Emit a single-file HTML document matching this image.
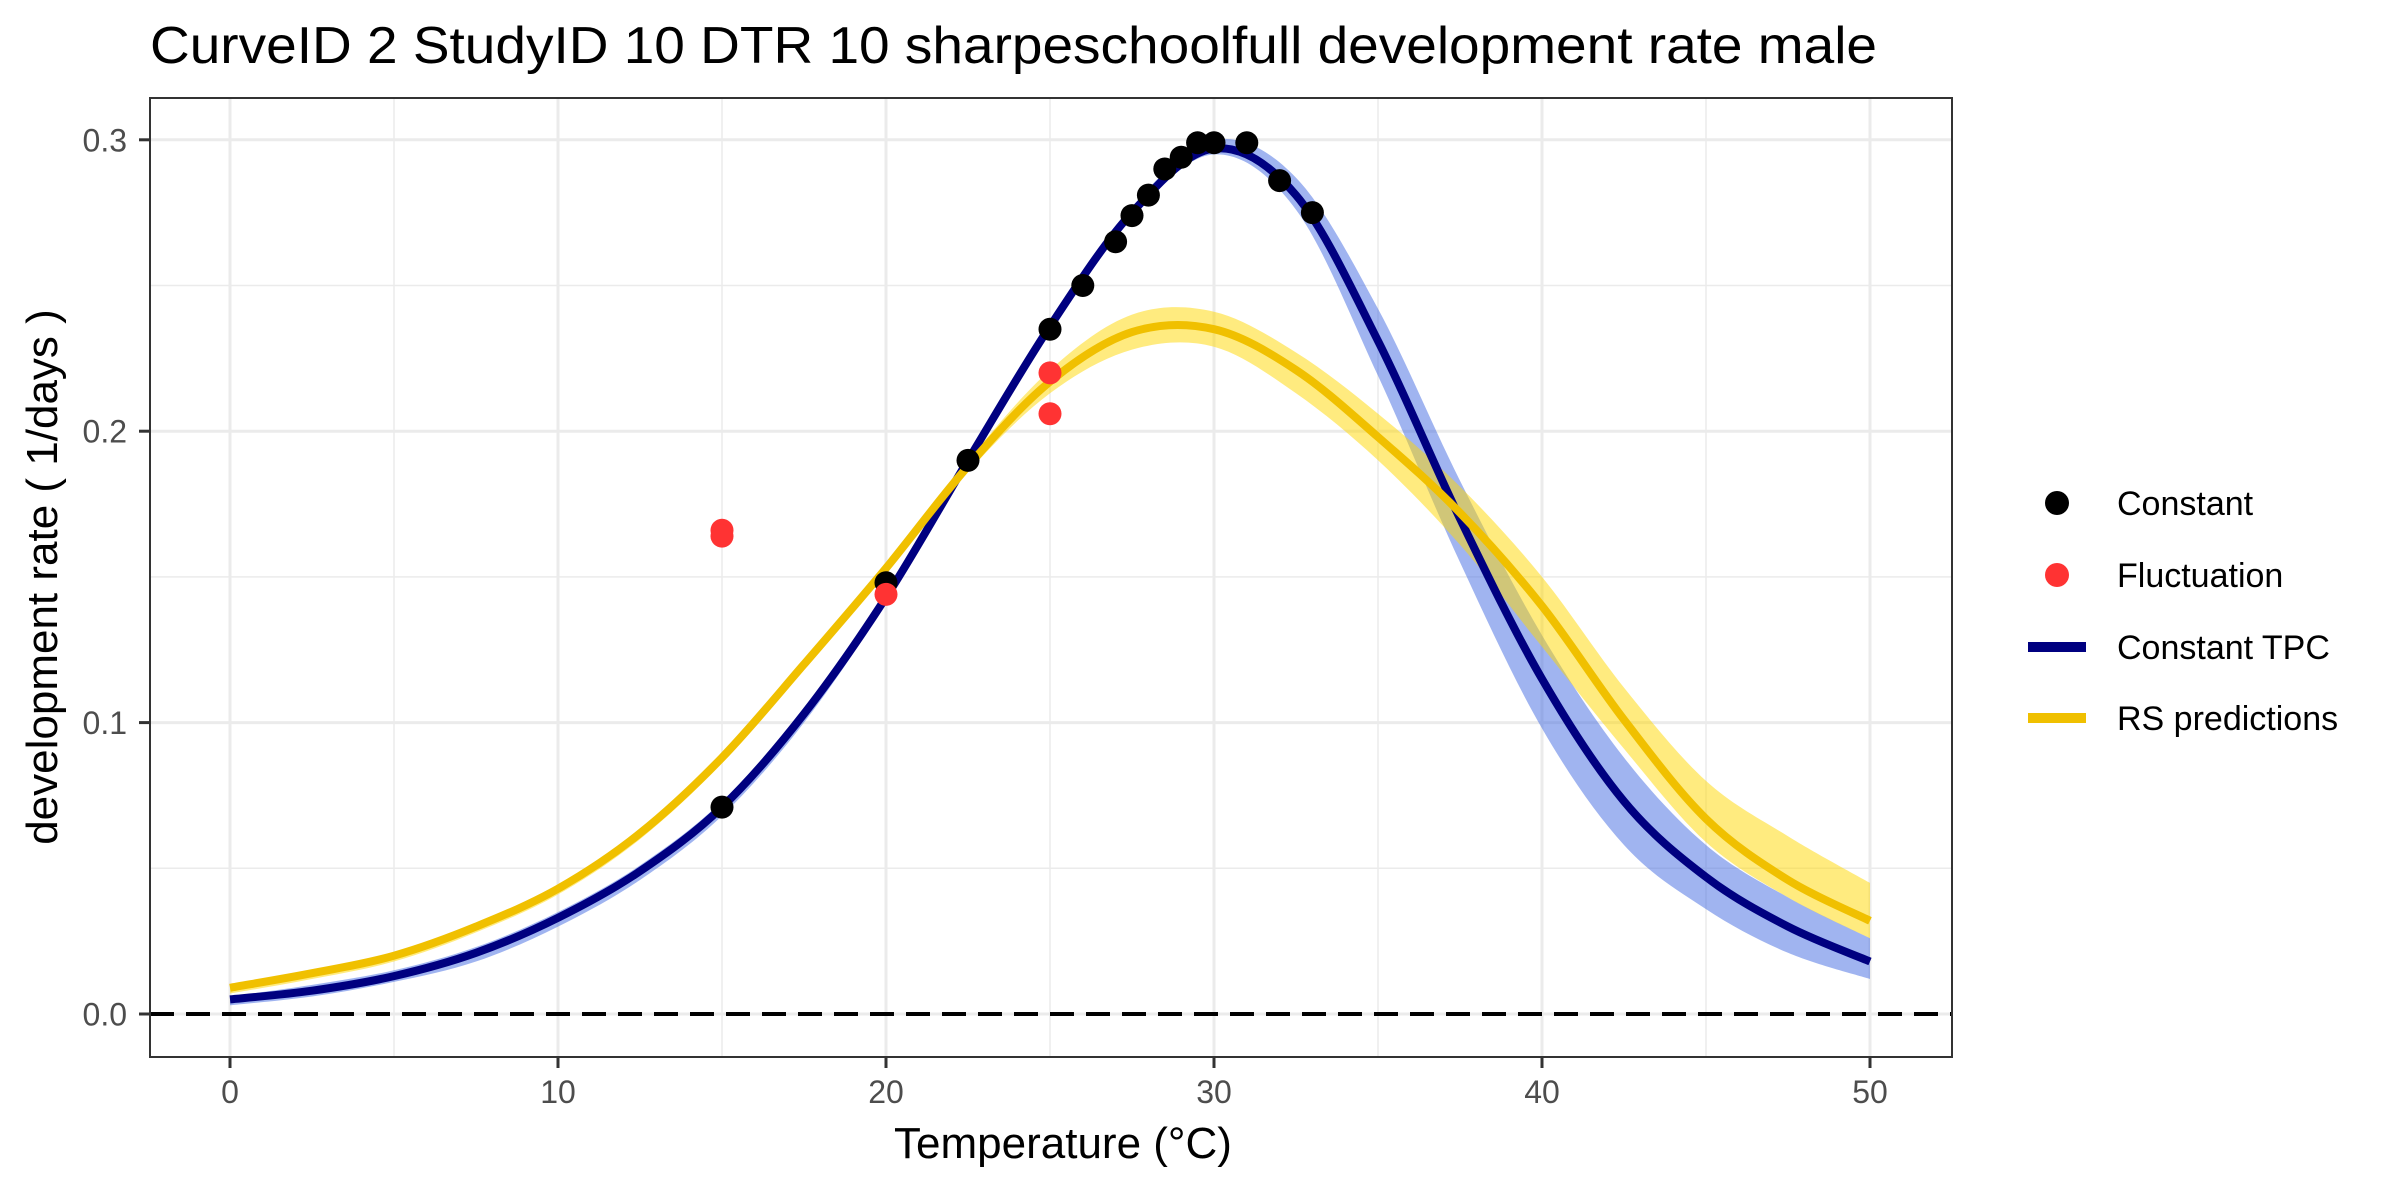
<!DOCTYPE html>
<html><head><meta charset="utf-8"><style>
html,body{margin:0;padding:0;background:#fff;}
svg{display:block;font-family:"Liberation Sans",Arial,sans-serif;}
</style></head><body>
<svg id="chart" width="2400" height="1200" viewBox="0 0 2400 1200">
<rect width="2400" height="1200" fill="#fff"/>
<text x="150" y="63" font-size="52" fill="#000" textLength="1727" lengthAdjust="spacingAndGlyphs">CurveID 2 StudyID 10 DTR 10 sharpeschoolfull development rate male</text>
<g id="grid"></g>
<g id="ribbons"></g>
<g id="lines"></g>
<g id="points"></g>
<rect x="150" y="98" width="1802" height="959" fill="none" stroke="#333" stroke-width="2"/>
<g id="axes"></g>
<text x="1063" y="1158" font-size="44" text-anchor="middle" fill="#000">Temperature (°C)</text>
<text transform="translate(57,577) rotate(-90)" font-size="44" text-anchor="middle" fill="#000">development rate ( 1/days )</text>
<g>
  <g>
    <circle cx="2057" cy="503" r="12" fill="#000"/>
    <text x="2117" y="515" font-size="34" fill="#000">Constant</text>
  </g>
  <g>
    <circle cx="2057" cy="575" r="12" fill="#ff3333"/>
    <text x="2117" y="587" font-size="34" fill="#000">Fluctuation</text>
  </g>
  <g>
    <rect x="2028" y="642" width="58" height="10" fill="#000080"/>
    <text x="2117" y="659" font-size="34" fill="#000">Constant TPC</text>
  </g>
  <g>
    <rect x="2028" y="713" width="58" height="10" fill="#f0c000"/>
    <text x="2117" y="730" font-size="34" fill="#000">RS predictions</text>
  </g>
</g>
</svg>
<script>
const curveT = [0,2.5,5,7.5,10,12.5,15,17.5,20,22.5,25,27.5,30,32.5,35,37.5,40,42.5,45,47.5,50];
const tpcFit = [0.005,0.008,0.013,0.021,0.033,0.049,0.071,0.103,0.143,0.19,0.236,0.275,0.297,0.281,0.231,0.170,0.115,0.073,0.047,0.030,0.018];
const tpcLow = [0.003,0.006,0.011,0.018,0.030,0.046,0.068,0.100,0.141,0.188,0.234,0.273,0.295,0.276,0.219,0.155,0.098,0.058,0.036,0.021,0.012];
const tpcHigh = [0.006,0.010,0.015,0.023,0.035,0.051,0.073,0.105,0.145,0.192,0.238,0.277,0.300,0.287,0.242,0.183,0.130,0.088,0.058,0.040,0.026];
const rsFit = [0.009,0.014,0.020,0.030,0.043,0.062,0.088,0.120,0.153,0.188,0.217,0.234,0.235,0.221,0.198,0.172,0.140,0.101,0.067,0.046,0.032];
const rsLow = [0.007,0.012,0.018,0.028,0.041,0.060,0.086,0.118,0.151,0.186,0.213,0.228,0.229,0.213,0.190,0.161,0.126,0.091,0.059,0.040,0.026];
const rsHigh = [0.010,0.015,0.021,0.031,0.044,0.063,0.089,0.121,0.155,0.190,0.221,0.240,0.241,0.227,0.206,0.181,0.150,0.112,0.080,0.061,0.045];
const constT = [15,20,22.5,25,26,27,27.5,28,28.5,29,29.5,30,31,32,33];
const constRate = [0.071,0.148,0.19,0.235,0.25,0.265,0.274,0.281,0.29,0.294,0.299,0.299,0.299,0.286,0.275];
const flucT = [15,15,20,25,25];
const flucRate = [0.166,0.164,0.144,0.22,0.206];
const xTicks = [0,10,20,30,40,50];
const yTicks = [0,0.1,0.2,0.3];
const yTickLabels = ["0.0","0.1","0.2","0.3"];

const NS = "http://www.w3.org/2000/svg";
const X = t => 230 + 32.8 * t;
const Y = v => 1014 - 2914 * v;
function mk(tag, attrs, parent){
  const e = document.createElementNS(NS, tag);
  for (const k in attrs) e.setAttribute(k, attrs[k]);
  parent.appendChild(e);
  return e;
}
function smooth(pts){
  let d = "M" + pts[0][0].toFixed(1) + "," + pts[0][1].toFixed(1);
  for (let i = 0; i < pts.length - 1; i++){
    const p0 = pts[Math.max(0,i-1)], p1 = pts[i], p2 = pts[i+1], p3 = pts[Math.min(pts.length-1,i+2)];
    const c1x = p1[0] + (p2[0]-p0[0])/6, c1y = p1[1] + (p2[1]-p0[1])/6;
    const c2x = p2[0] - (p3[0]-p1[0])/6, c2y = p2[1] - (p3[1]-p1[1])/6;
    d += " C" + c1x.toFixed(1) + "," + c1y.toFixed(1) + " " + c2x.toFixed(1) + "," + c2y.toFixed(1) + " " + p2[0].toFixed(1) + "," + p2[1].toFixed(1);
  }
  return d;
}
const grid = document.getElementById("grid");
const axes = document.getElementById("axes");
for (let t = 5; t <= 45; t += 10){
  const g = mk("line", {x1:X(t), x2:X(t), y1:98, y2:1057, stroke:"#ebebeb", "stroke-width":1.5}, grid);
  
  
}
for (const v of [0.05,0.15,0.25]){
  const g = mk("line", {x1:150, x2:1952, y1:Y(v), y2:Y(v), stroke:"#ebebeb", "stroke-width":1.5}, grid);
  
  
}
xTicks.forEach(t => {
  const g = mk("line", {x1:X(t), x2:X(t), y1:98, y2:1057, stroke:"#ebebeb", "stroke-width":3}, grid);
  
  
  const tk = mk("line", {x1:X(t), x2:X(t), y1:1057, y2:1068, stroke:"#333", "stroke-width":3}, axes);
  
  
  const lb = mk("text", {x:X(t), y:1103, "font-size":32, "text-anchor":"middle", fill:"#4d4d4d"}, axes);
  lb.textContent = String(t);
  
  
});
yTicks.forEach((v,i) => {
  const g = mk("line", {x1:150, x2:1952, y1:Y(v), y2:Y(v), stroke:"#ebebeb", "stroke-width":3}, grid);
  
  
  const tk = mk("line", {x1:139, x2:150, y1:Y(v), y2:Y(v), stroke:"#333", "stroke-width":3}, axes);
  
  
  const lb = mk("text", {x:127, y:Y(v)+11.5, "font-size":32, "text-anchor":"end", fill:"#4d4d4d"}, axes);
  lb.textContent = yTickLabels[i];
  
  
});
const zl = mk("line", {x1:150, x2:1952, y1:Y(0), y2:Y(0), stroke:"#000", "stroke-width":4, "stroke-dasharray":"24 12"}, grid);



function ribbon(lo, hi, fill, name){
  const up = curveT.map((t,i)=>[X(t),Y(hi[i])]);
  const dn = curveT.map((t,i)=>[X(t),Y(lo[i])]).reverse();
  const d = smooth(up) + " L" + smooth(dn).slice(1) + " Z";
  const p = mk("path", {d:d, fill:fill, "fill-opacity":0.5, stroke:"none"}, document.getElementById("ribbons"));
  
  
}
ribbon(tpcLow, tpcHigh, "#4169e1", "constant-tpc-ribbon");
ribbon(rsLow, rsHigh, "#ffd700", "rs-predictions-ribbon");
function line(vals, color, name){
  const p = mk("path", {d:smooth(curveT.map((t,i)=>[X(t),Y(vals[i])])), fill:"none", stroke:color, "stroke-width":8}, document.getElementById("lines"));
  
  
}
line(tpcFit, "#000080", "constant-tpc-line");
line(rsFit, "#f0c000", "rs-predictions-line");
const pts = document.getElementById("points");
constT.forEach((t,i) => {
  const c = mk("circle", {cx:X(t), cy:Y(constRate[i]), r:11.5, fill:"#000"}, pts);
  
  
});
flucT.forEach((t,i) => {
  const c = mk("circle", {cx:X(t), cy:Y(flucRate[i]), r:11.5, fill:"#ff3333"}, pts);
  
  
});
</script>
</body></html>
